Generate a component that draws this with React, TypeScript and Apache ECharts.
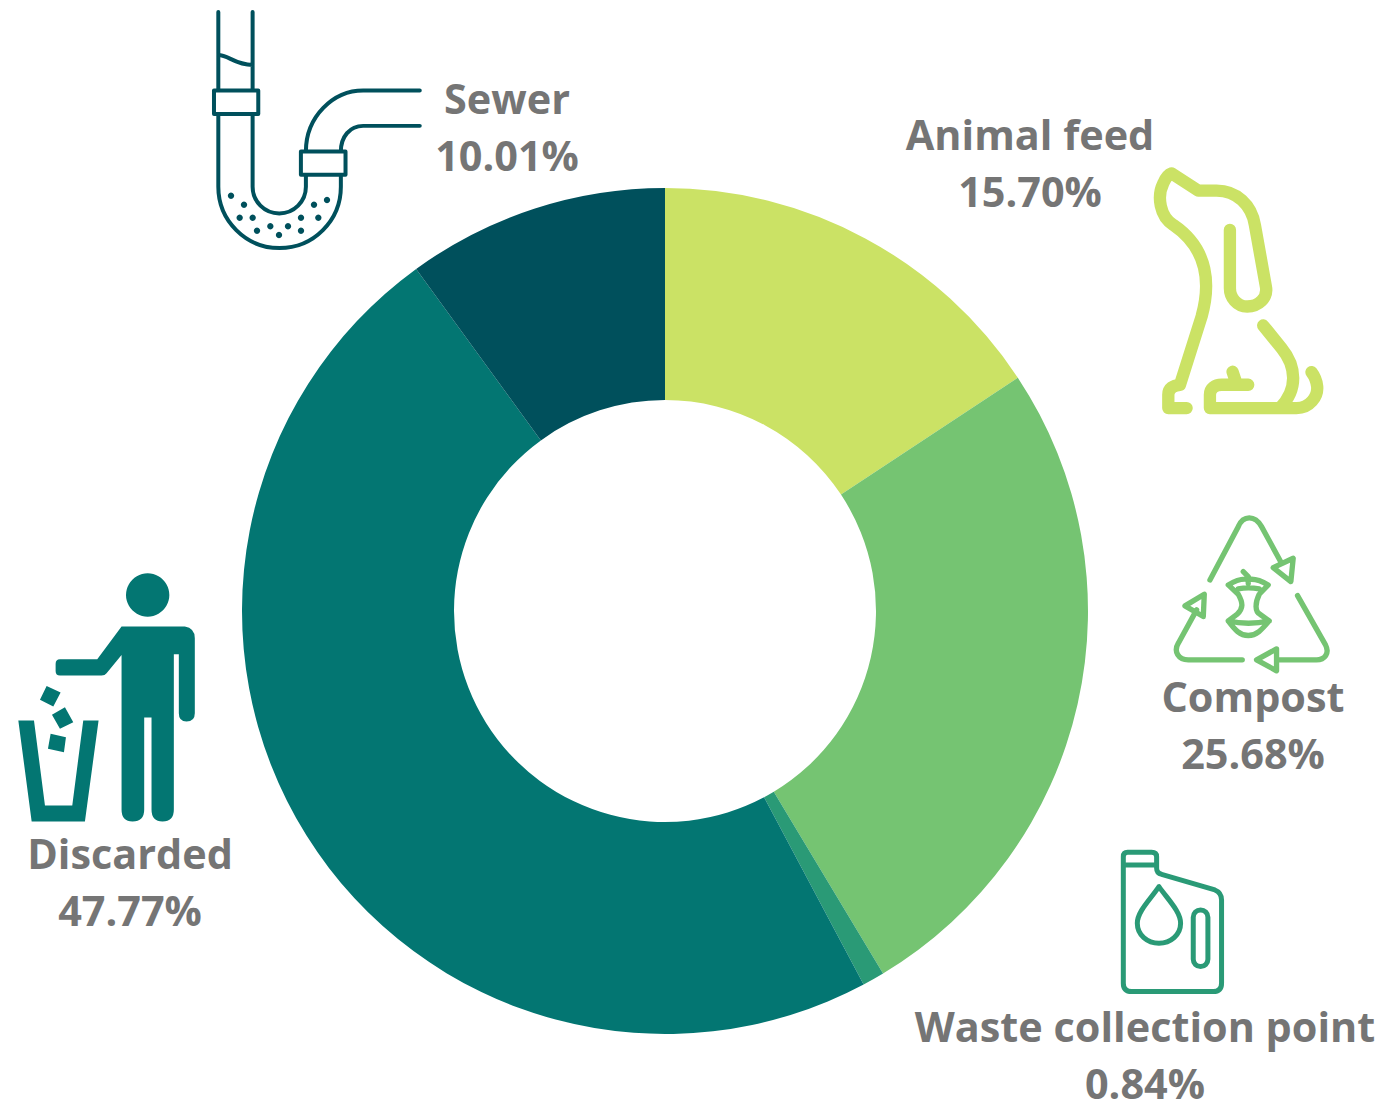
import React, { useEffect, useRef } from "react";
import * as echarts from "echarts";

// Share of food-waste destinations, in percent, clockwise from twelve o'clock.
const categories = ["Animal feed", "Compost", "Waste collection point", "Discarded", "Sewer"];
const shares = [15.7, 25.68, 0.84, 47.77, 10.01];
const sliceColors = ["#cbe265", "#75c472", "#2a9a76", "#037672", "#00505c"];
const labelAnchors = [
  [1030, 133.5],
  [1253, 695.5],
  [1145, 1025.5],
  [130, 852.5],
  [507, 97.5],
];

// Icon outlines are written at three times their drawn size.
const PIPE =
  "M55 36 L55 272 M158 36 L158 272 M55 165 C85 165 105 195 158 195 " +
  "M42 272 L175 272 L175 342 L42 342 Z " +
  "M55 342 L55 561 A184 184 0 0 0 423 561 L423 525 " +
  "M158 342 L158 561 A80 80 0 0 0 318 561 L318 525 " +
  "M303 455 L437 455 L437 525 L303 525 Z " +
  "M318 455 C318 350 400 272 490 272 L660 272 " +
  "M423 455 C423 410 450 378 490 378 L660 378";
const PIPE_DOTS = [
  [93, 587], [132, 614], [119, 653], [158, 653], [171, 692], [211, 679], [237, 705],
  [264, 679], [303, 692], [303, 653], [342, 614], [355, 653], [381, 600],
];
const DOG =
  "M140 745 L85 745 L85 705 C85 685 100 677 120 675 L185 470 C210 380 210 270 100 195 " +
  "C60 170 50 110 70 70 Q80 45 95 40 L175 92 L230 92 C290 92 335 135 345 195 L378 380 " +
  "C385 415 355 440 322 440 C290 440 270 412 270 385 L270 210 " +
  "M370 497 L425 565 C470 620 475 690 420 745 " +
  "M210 745 L470 745 C510 745 535 710 532 680 C530 660 525 650 515 637 " +
  "M210 745 L210 705 C210 685 225 675 245 675 L325 675 M278 636 L290 672";
const COMPOST =
  "M150 225 L235 65 C250 30 285 30 305 65 L365 175 M340 188 L400 160 L393 230 Z " +
  "M413 272 L497 420 C510 445 495 465 470 465 L350 465 M350 432 L290 465 L350 498 Z " +
  "M247 465 L85 465 C55 465 40 440 55 415 L110 315 M75 303 L133 268 L130 335 Z " +
  "M205 240 C225 228 250 220 265 224 C285 220 305 228 325 240 L298 268 C285 295 285 320 300 328 L328 348 " +
  "C305 375 290 392 265 392 C240 392 225 375 205 348 L232 328 C250 310 250 295 235 268 Z " +
  "M205 348 Q265 362 328 348 M250 200 L265 215 L265 235 M235 252 Q265 246 298 252";
const BOTTLE =
  "M40 75 L40 50 Q40 37 53 37 L125 37 Q140 37 140 50 L140 85 Q140 100 155 103 L315 150 " +
  "Q335 158 335 180 L335 430 Q335 455 310 455 L65 455 Q40 455 40 430 Z M40 75 L140 75 " +
  "M147 140 C120 180 82 215 82 250 C82 285 112 310 147 310 C182 310 212 285 212 250 C212 215 175 180 147 140 Z " +
  "M250 232 A22 22 0 0 1 294 232 L294 358 A22 22 0 0 1 250 358 Z";
const PERSON =
  "M335 185 L525 185 Q555 190 555 220 L555 445 Q555 470 530 470 Q507 470 507 445 L507 268 L492 268 " +
  "L492 735 Q492 770 458 770 Q425 770 425 735 L425 458 L403 458 L403 735 Q403 770 368 770 Q335 770 335 735 " +
  "L335 270 L290 325 Q285 332 275 332 L150 332 Q137 332 137 318 L137 297 Q137 283 150 283 L262 283 Z " +
  "M25 467 L72 467 L105 722 L187 722 L220 467 L266 467 L225 770 L65 770 Z " +
  "M110 363 L152 383 L130 425 L90 405 Z M165 427 L190 472 L150 492 L126 450 Z M122 507 L168 517 L162 562 L114 552 Z";

const ICON_SCALE = 1 / 3;
const TEXT_COLOR = "#757575";
const FONT = '"Open Sans", sans-serif';

for (const [name, d] of [
  ["icon-pipe", PIPE],
  ["icon-dog", DOG],
  ["icon-compost", COMPOST],
  ["icon-bottle", BOTTLE],
  ["icon-person", PERSON],
]) {
  echarts.graphic.registerShape(name, echarts.graphic.extendPath(d, {}));
}

const outlineIcon = (type: string, x: number, y: number, stroke: string, width: number) => ({
  type,
  x,
  y,
  scaleX: ICON_SCALE,
  scaleY: ICON_SCALE,
  silent: true,
  style: { fill: "none", stroke, lineWidth: width, lineCap: "round", lineJoin: "round" },
});

const labelText = (text: string, x: number, y: number) => ({
  type: "text",
  x,
  y,
  silent: true,
  style: {
    text,
    fill: TEXT_COLOR,
    font: `700 41.4px ${FONT}`,
    textAlign: "center",
    textVerticalAlign: "middle",
  },
});

export default function App() {
  const ref = useRef<HTMLDivElement>(null);

  useEffect(() => {
    const chart = echarts.init(ref.current!, undefined, { renderer: "svg" });
    const labels = categories.flatMap((name, i) => {
      const [x, y] = labelAnchors[i];
      return [labelText(name, x, y), labelText(`${shares[i].toFixed(2)}%`, x, y + 57)];
    });
    chart.setOption({
      animation: false,
      backgroundColor: "#ffffff",
      series: [
        {
          type: "pie",
          center: [665, 611],
          radius: [211, 423],
          startAngle: 90,
          clockwise: true,
          silent: true,
          label: { show: false },
          labelLine: { show: false },
          data: categories.map((name, i) => ({
            name,
            value: shares[i],
            itemStyle: { color: sliceColors[i] },
          })),
        },
      ],
      graphic: [
        outlineIcon("icon-pipe", 200, 0, "#00505c", 12),
        ...PIPE_DOTS.map(([cx, cy]) => ({
          type: "circle",
          silent: true,
          shape: { cx: 200 + cx * ICON_SCALE, cy: cy * ICON_SCALE, r: 3.2 },
          style: { fill: "#00505c" },
        })),
        outlineIcon("icon-dog", 1140, 160, sliceColors[0], 37),
        outlineIcon("icon-compost", 1160, 505, sliceColors[1], 16),
        outlineIcon("icon-bottle", 1110, 840, sliceColors[2], 15),
        {
          type: "icon-person",
          x: 10,
          y: 565,
          scaleX: ICON_SCALE,
          scaleY: ICON_SCALE,
          silent: true,
          style: { fill: sliceColors[3] },
        },
        {
          type: "circle",
          silent: true,
          shape: { cx: 10 + 413 * ICON_SCALE, cy: 565 + 90 * ICON_SCALE, r: 65 * ICON_SCALE },
          style: { fill: sliceColors[3] },
        },
        ...labels,
      ],
    });
    return () => chart.dispose();
  }, []);

  return <div ref={ref} style={{ position: "absolute", left: 0, top: 0, width: 1384, height: 1102 }} />;
}
